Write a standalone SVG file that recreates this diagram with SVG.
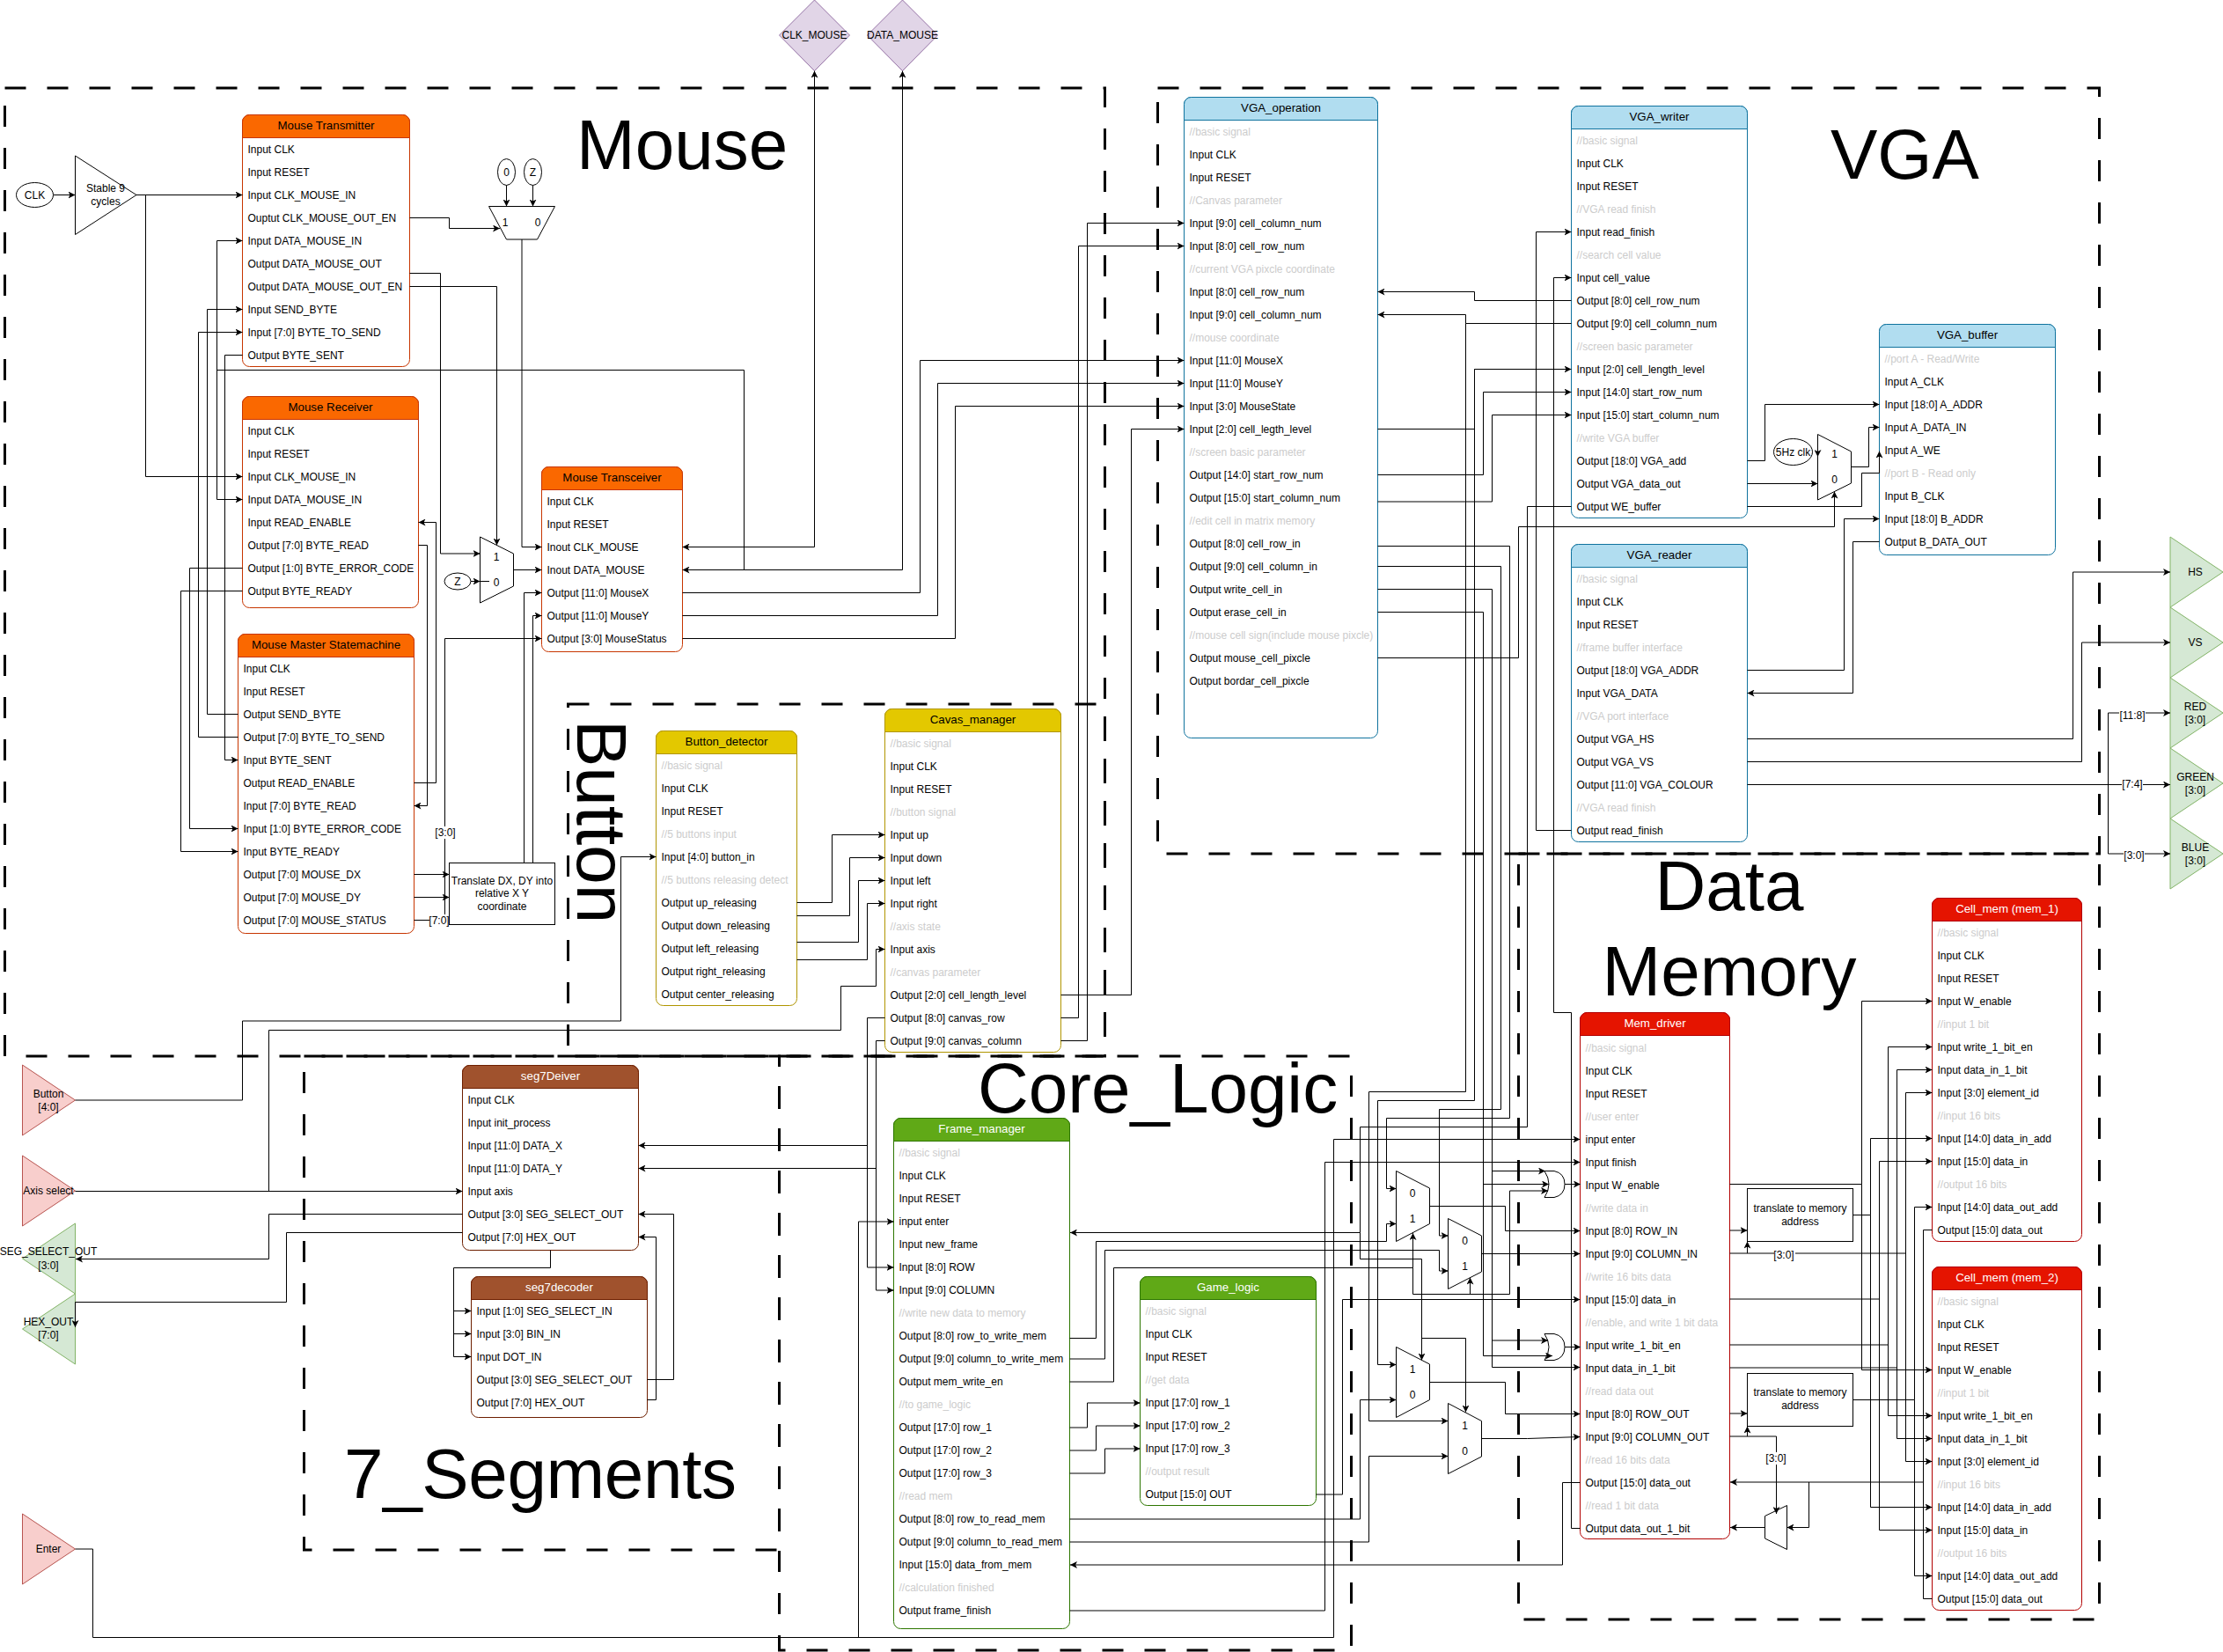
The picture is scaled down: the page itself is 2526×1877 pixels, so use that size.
<svg xmlns="http://www.w3.org/2000/svg" width="2526" height="1877" viewBox="0 0 2526 1877">
<style>
text{font-family:"Liberation Sans",Arial,sans-serif;font-size:12px;fill:#000;dominant-baseline:central}
.m{text-anchor:middle}
.g{fill:#ccc}
.h{text-anchor:middle;font-size:13.3px;transform:translateY(-1.5px)}
.w{fill:#fff}
.big{font-size:80px;dominant-baseline:auto}
.reg{fill:none;stroke:#000;stroke-width:3;stroke-dasharray:24 24}
.l,.a,.b{fill:none;stroke:#000;stroke-width:1}
.a{marker-end:url(#ar)}
.b{marker-start:url(#ar);marker-end:url(#ar)}
.s{fill:#fff;stroke:#000;stroke-width:1}
.bg{fill:#fff;stroke:none}
.o{fill:#fa6800;stroke:#c73500}.ob{fill:#fff;stroke:#c73500}
.y{fill:#e3c800;stroke:#b09500}.yb{fill:#fff;stroke:#b09500}
.c{fill:#b1ddf0;stroke:#10739e}.cb{fill:#fff;stroke:#10739e}
.n{fill:#a0522d;stroke:#6d1f00}.nb{fill:#fff;stroke:#6d1f00}
.e{fill:#60a917;stroke:#2d7600}.eb{fill:#fff;stroke:#2d7600}
.r{fill:#e51400;stroke:#b20000}.rb{fill:#fff;stroke:#b20000}
.pk{fill:#f8cecc;stroke:#b85450}
.gn{fill:#d5e8d4;stroke:#82b366}
.pu{fill:#e1d5e7;stroke:#9673a6}
</style>
<defs><marker id="ar" viewBox="0 0 8 8" refX="8" refY="4" markerWidth="8" markerHeight="8" markerUnits="userSpaceOnUse" orient="auto-start-reverse"><path d="M8 4L0 0L2 4L0 8Z" fill="#000"/></marker></defs>

<g id="regions">
<rect class="reg" x="5.5" y="100" width="1250" height="1100"/>
<rect class="reg" x="645.5" y="800" width="610" height="400"/>
<rect class="reg" x="1315.5" y="100" width="1070" height="870"/>
<rect class="reg" x="1725.5" y="970" width="660" height="870"/>
<rect class="reg" x="345.5" y="1200" width="540" height="561"/>
<rect class="reg" x="885.5" y="1200" width="650" height="675"/>
<text class="big" x="655" y="192">Mouse</text>
<text class="big" x="2080" y="202.5">VGA</text>
<text class="big" transform="translate(656,818) rotate(90)">Button</text>
<text class="big" x="1111" y="1264">Core_Logic</text>
<text class="big m" x="1965" y="1034">Data</text>
<text class="big m" x="1965" y="1131">Memory</text>
<text class="big" x="391" y="1702" textLength="446">7_Segments</text>
</g>

<g id="node-clk"><ellipse class="s" cx="39.5" cy="221.5" rx="21" ry="14"/><text class="m" x="39.5" y="221.5">CLK</text></g>
<g id="node-stable"><polygon class="s" points="85.5,177 155,221.5 85.5,266.5"/><text class="m" x="120" y="213.5">Stable 9</text><text class="m" x="120" y="228.5">cycles</text></g>
<g id="node-const-0"><ellipse class="s" cx="575.5" cy="195.5" rx="10" ry="15"/><text class="m" x="575.5" y="195.5">0</text></g>
<g id="node-const-z"><ellipse class="s" cx="605.5" cy="195.5" rx="10" ry="15"/><text class="m" x="605.5" y="195.5">Z</text></g>
<g id="node-mux-clk"><polygon class="s" points="555.5,234.5 630.5,234.5 610.5,272 575.5,272"/><text class="m" x="574" y="253">1</text><text class="m" x="611" y="253">0</text></g>
<g id="node-mux-data"><polygon class="s" points="545.5,610 583.5,629 583.5,666 545.5,685"/><text class="m" x="564" y="632.5">1</text><text class="m" x="564" y="662">0</text></g>
<g id="node-const-z2"><ellipse class="s" cx="520" cy="660.5" rx="15" ry="9.5"/><text class="m" x="520" y="660.5">Z</text></g>

<g id="node-mouse-transmitter"><rect class="ob" x="275.5" y="130.5" width="190" height="286" rx="8"/><path class="o" d="M275.5 156.5V138.5a8 8 0 0 1 8-8H457.5a8 8 0 0 1 8 8V156.5Z"/>
<text class="h" x="370.5" y="143.5">Mouse Transmitter</text>
<text x="281.5" y="169.5">Input CLK</text><text x="281.5" y="195.5">Input RESET</text><text x="281.5" y="221.5">Input CLK_MOUSE_IN</text><text x="281.5" y="247.5">Ouptut CLK_MOUSE_OUT_EN</text><text x="281.5" y="273.5">Input DATA_MOUSE_IN</text><text x="281.5" y="299.5">Output DATA_MOUSE_OUT</text><text x="281.5" y="325.5">Output DATA_MOUSE_OUT_EN</text><text x="281.5" y="351.5">Input SEND_BYTE</text><text x="281.5" y="377.5">Input [7:0] BYTE_TO_SEND</text><text x="281.5" y="403.5">Output BYTE_SENT</text></g>

<g id="node-mouse-receiver"><rect class="ob" x="275.5" y="450.5" width="200" height="240" rx="8"/><path class="o" d="M275.5 476.5V458.5a8 8 0 0 1 8-8H467.5a8 8 0 0 1 8 8V476.5Z"/>
<text class="h" x="375.5" y="463.5">Mouse Receiver</text>
<text x="281.5" y="489.5">Input CLK</text><text x="281.5" y="515.5">Input RESET</text><text x="281.5" y="541.5">Input CLK_MOUSE_IN</text><text x="281.5" y="567.5">Input DATA_MOUSE_IN</text><text x="281.5" y="593.5">Input READ_ENABLE</text><text x="281.5" y="619.5">Output [7:0] BYTE_READ</text><text x="281.5" y="645.5">Output [1:0] BYTE_ERROR_CODE</text><text x="281.5" y="671.5">Output BYTE_READY</text></g>

<g id="node-mouse-transceiver"><rect class="ob" x="615.5" y="530.5" width="160" height="210" rx="8"/><path class="o" d="M615.5 556.5V538.5a8 8 0 0 1 8-8H767.5a8 8 0 0 1 8 8V556.5Z"/>
<text class="h" x="695.5" y="543.5">Mouse Transceiver</text>
<text x="621.5" y="569.5">Input CLK</text><text x="621.5" y="595.5">Input RESET</text><text x="621.5" y="621.5">Inout CLK_MOUSE</text><text x="621.5" y="647.5">Inout DATA_MOUSE</text><text x="621.5" y="673.5">Output [11:0] MouseX</text><text x="621.5" y="699.5">Output [11:0] MouseY</text><text x="621.5" y="725.5">Output [3:0] MouseStatus</text></g>

<g id="node-mouse-master"><rect class="ob" x="270.5" y="720.5" width="200" height="340" rx="8"/><path class="o" d="M270.5 746.5V728.5a8 8 0 0 1 8-8H462.5a8 8 0 0 1 8 8V746.5Z"/>
<text class="h" x="370.5" y="733.5">Mouse Master Statemachine</text>
<text x="276.5" y="759.5">Input CLK</text><text x="276.5" y="785.5">Input RESET</text><text x="276.5" y="811.5">Output SEND_BYTE</text><text x="276.5" y="837.5">Output [7:0] BYTE_TO_SEND</text><text x="276.5" y="863.5">Input BYTE_SENT</text><text x="276.5" y="889.5">Output READ_ENABLE</text><text x="276.5" y="915.5">Input [7:0] BYTE_READ</text><text x="276.5" y="941.5">Input [1:0] BYTE_ERROR_CODE</text><text x="276.5" y="967.5">Input BYTE_READY</text><text x="276.5" y="993.5">Output [7:0] MOUSE_DX</text><text x="276.5" y="1019.5">Output [7:0] MOUSE_DY</text><text x="276.5" y="1045.5">Output [7:0] MOUSE_STATUS</text></g>

<g id="node-translate-dx"><rect class="s" x="510.5" y="980.5" width="120" height="70"/><text class="m" x="570.5" y="1000.5">Translate DX, DY into</text><text class="m" x="570.5" y="1015">relative X Y</text><text class="m" x="570.5" y="1030">coordinate</text></g>

<g id="node-button-detector"><rect class="yb" x="745.5" y="830.5" width="160" height="312" rx="8"/><path class="y" d="M745.5 856.5V838.5a8 8 0 0 1 8-8H897.5a8 8 0 0 1 8 8V856.5Z"/>
<text class="h" x="825.5" y="843.5">Button_detector</text>
<text class="g" x="751.5" y="869.5">//basic signal</text><text x="751.5" y="895.5">Input CLK</text><text x="751.5" y="921.5">Input RESET</text><text class="g" x="751.5" y="947.5">//5 buttons input</text><text x="751.5" y="973.5">Input [4:0] button_in</text><text class="g" x="751.5" y="999.5">//5 buttons releasing detect</text><text x="751.5" y="1025.5">Output up_releasing</text><text x="751.5" y="1051.5">Output down_releasing</text><text x="751.5" y="1077.5">Output left_releasing</text><text x="751.5" y="1103.5">Output right_releasing</text><text x="751.5" y="1129.5">Output center_releasing</text></g>

<g id="node-cavas-manager"><rect class="yb" x="1005.5" y="805.5" width="200" height="390" rx="8"/><path class="y" d="M1005.5 831.5V813.5a8 8 0 0 1 8-8H1197.5a8 8 0 0 1 8 8V831.5Z"/>
<text class="h" x="1105.5" y="818.5">Cavas_manager</text>
<text class="g" x="1011.5" y="844.5">//basic signal</text><text x="1011.5" y="870.5">Input CLK</text><text x="1011.5" y="896.5">Input RESET</text><text class="g" x="1011.5" y="922.5">//button signal</text><text x="1011.5" y="948.5">Input up</text><text x="1011.5" y="974.5">Input down</text><text x="1011.5" y="1000.5">Input left</text><text x="1011.5" y="1026.5">Input right</text><text class="g" x="1011.5" y="1052.5">//axis state</text><text x="1011.5" y="1078.5">Input axis</text><text class="g" x="1011.5" y="1104.5">//canvas parameter</text><text x="1011.5" y="1130.5">Output [2:0] cell_length_level</text><text x="1011.5" y="1156.5">Output [8:0] canvas_row</text><text x="1011.5" y="1182.5">Output [9:0] canvas_column</text></g>

<g id="node-vga-operation"><rect class="cb" x="1345.5" y="110.5" width="220" height="728" rx="8"/><path class="c" d="M1345.5 136.5V118.5a8 8 0 0 1 8-8H1557.5a8 8 0 0 1 8 8V136.5Z"/>
<text class="h" x="1455.5" y="123.5">VGA_operation</text>
<text class="g" x="1351.5" y="149.5">//basic signal</text><text x="1351.5" y="175.5">Input CLK</text><text x="1351.5" y="201.5">Input RESET</text><text class="g" x="1351.5" y="227.5">//Canvas parameter</text><text x="1351.5" y="253.5">Input [9:0] cell_column_num</text><text x="1351.5" y="279.5">Input [8:0] cell_row_num</text><text class="g" x="1351.5" y="305.5">//current VGA pixcle coordinate</text><text x="1351.5" y="331.5">Input [8:0] cell_row_num</text><text x="1351.5" y="357.5">Input [9:0] cell_column_num</text><text class="g" x="1351.5" y="383.5">//mouse coordinate</text><text x="1351.5" y="409.5">Input [11:0] MouseX</text><text x="1351.5" y="435.5">Input [11:0] MouseY</text><text x="1351.5" y="461.5">Input [3:0] MouseState</text><text x="1351.5" y="487.5">Input [2:0] cell_legth_level</text><text class="g" x="1351.5" y="513.5">//screen basic parameter</text><text x="1351.5" y="539.5">Output [14:0] start_row_num</text><text x="1351.5" y="565.5">Output [15:0] start_column_num</text><text class="g" x="1351.5" y="591.5">//edit cell in matrix memory</text><text x="1351.5" y="617.5">Output [8:0] cell_row_in</text><text x="1351.5" y="643.5">Output [9:0] cell_column_in</text><text x="1351.5" y="669.5">Output write_cell_in</text><text x="1351.5" y="695.5">Output erase_cell_in</text><text class="g" x="1351.5" y="721.5">//mouse cell sign(include mouse pixcle)</text><text x="1351.5" y="747.5">Output mouse_cell_pixcle</text><text x="1351.5" y="773.5">Output bordar_cell_pixcle</text></g>

<g id="node-vga-writer"><rect class="cb" x="1785.5" y="120.5" width="200" height="468" rx="8"/><path class="c" d="M1785.5 146.5V128.5a8 8 0 0 1 8-8H1977.5a8 8 0 0 1 8 8V146.5Z"/>
<text class="h" x="1885.5" y="133.5">VGA_writer</text>
<text class="g" x="1791.5" y="159.5">//basic signal</text><text x="1791.5" y="185.5">Input CLK</text><text x="1791.5" y="211.5">Input RESET</text><text class="g" x="1791.5" y="237.5">//VGA read finish</text><text x="1791.5" y="263.5">Input read_finish</text><text class="g" x="1791.5" y="289.5">//search cell value</text><text x="1791.5" y="315.5">Input cell_value</text><text x="1791.5" y="341.5">Output [8:0] cell_row_num</text><text x="1791.5" y="367.5">Output [9:0] cell_column_num</text><text class="g" x="1791.5" y="393.5">//screen basic parameter</text><text x="1791.5" y="419.5">Input [2:0] cell_length_level</text><text x="1791.5" y="445.5">Input [14:0] start_row_num</text><text x="1791.5" y="471.5">Input [15:0] start_column_num</text><text class="g" x="1791.5" y="497.5">//write VGA buffer</text><text x="1791.5" y="523.5">Output [18:0] VGA_add</text><text x="1791.5" y="549.5">Output VGA_data_out</text><text x="1791.5" y="575.5">Output WE_buffer</text></g>

<g id="node-vga-reader"><rect class="cb" x="1785.5" y="618.5" width="200" height="338" rx="8"/><path class="c" d="M1785.5 644.5V626.5a8 8 0 0 1 8-8H1977.5a8 8 0 0 1 8 8V644.5Z"/>
<text class="h" x="1885.5" y="631.5">VGA_reader</text>
<text class="g" x="1791.5" y="657.5">//basic signal</text><text x="1791.5" y="683.5">Input CLK</text><text x="1791.5" y="709.5">Input RESET</text><text class="g" x="1791.5" y="735.5">//frame buffer interface</text><text x="1791.5" y="761.5">Output [18:0] VGA_ADDR</text><text x="1791.5" y="787.5">Input VGA_DATA</text><text class="g" x="1791.5" y="813.5">//VGA port interface</text><text x="1791.5" y="839.5">Output VGA_HS</text><text x="1791.5" y="865.5">Output VGA_VS</text><text x="1791.5" y="891.5">Output [11:0] VGA_COLOUR</text><text class="g" x="1791.5" y="917.5">//VGA read finish</text><text x="1791.5" y="943.5">Output read_finish</text></g>

<g id="node-vga-buffer"><rect class="cb" x="2135.5" y="368.5" width="200" height="262" rx="8"/><path class="c" d="M2135.5 394.5V376.5a8 8 0 0 1 8-8H2327.5a8 8 0 0 1 8 8V394.5Z"/>
<text class="h" x="2235.5" y="381.5">VGA_buffer</text>
<text class="g" x="2141.5" y="407.5">//port A - Read/Write</text><text x="2141.5" y="433.5">Input A_CLK</text><text x="2141.5" y="459.5">Input [18:0] A_ADDR</text><text x="2141.5" y="485.5">Input A_DATA_IN</text><text x="2141.5" y="511.5">Input A_WE</text><text class="g" x="2141.5" y="537.5">//port B - Read only</text><text x="2141.5" y="563.5">Input B_CLK</text><text x="2141.5" y="589.5">Input [18:0] B_ADDR</text><text x="2141.5" y="615.5">Output B_DATA_OUT</text></g>

<g id="node-mux-vga"><polygon class="s" points="2065.5,493.5 2103.5,513 2103.5,549 2065.5,568"/><text class="m" x="2084.5" y="515.5">1</text><text class="m" x="2084.5" y="544.5">0</text></g>
<g id="node-5hz"><ellipse class="s" cx="2037.5" cy="513.5" rx="22" ry="15"/><text class="m" x="2037.5" y="513.5">5Hz clk</text></g>

<g id="node-hs"><polygon class="gn" points="2466,610 2526,650 2466,690"/><text class="m" x="2494.5" y="650">HS</text></g>
<g id="node-vs"><polygon class="gn" points="2466,690 2526,730 2466,770"/><text class="m" x="2494.5" y="730">VS</text></g>
<g id="node-red"><polygon class="gn" points="2466,770 2526,810 2466,850"/><text class="m" x="2494.5" y="802.5">RED</text><text class="m" x="2494.5" y="817.5">[3:0]</text></g>
<g id="node-green"><polygon class="gn" points="2466,850 2526,890 2466,930"/><text class="m" x="2494.5" y="882.5">GREEN</text><text class="m" x="2494.5" y="897.5">[3:0]</text></g>
<g id="node-blue"><polygon class="gn" points="2466,930 2526,970 2466,1010"/><text class="m" x="2494.5" y="962.5">BLUE</text><text class="m" x="2494.5" y="977.5">[3:0]</text></g>

<g id="node-clk-mouse"><polygon class="pu" points="925.5,0 965.5,40 925.5,80.5 885.5,40"/><text class="m" x="925.5" y="40">CLK_MOUSE</text></g>
<g id="node-data-mouse"><polygon class="pu" points="1025.5,0 1065.5,40 1025.5,80.5 985.5,40"/><text class="m" x="1025.5" y="40">DATA_MOUSE</text></g>

<g id="node-button"><polygon class="pk" points="25.5,1210 85.5,1250 25.5,1290"/><text class="m" x="55" y="1242.5">Button</text><text class="m" x="55" y="1257.5">[4:0]</text></g>
<g id="node-axis"><polygon class="pk" points="25.5,1313 85.5,1353 25.5,1393"/><text class="m" x="55" y="1352.5">Axis select</text></g>
<g id="node-seg-out"><polygon class="gn" points="85.5,1390 25.5,1430 85.5,1470"/><text class="m" x="55" y="1422">SEG_SELECT_OUT</text><text class="m" x="55" y="1438">[3:0]</text></g>
<g id="node-hex-out"><polygon class="gn" points="85.5,1470 25.5,1510 85.5,1550"/><text class="m" x="55" y="1502">HEX_OUT</text><text class="m" x="55" y="1517">[7:0]</text></g>
<g id="node-enter"><polygon class="pk" points="25.5,1720 85.5,1760 25.5,1800"/><text class="m" x="55" y="1760">Enter</text></g>

<g id="node-seg7deiver"><rect class="nb" x="525.5" y="1210.5" width="200" height="210" rx="8"/><path class="n" d="M525.5 1236.5V1218.5a8 8 0 0 1 8-8H717.5a8 8 0 0 1 8 8V1236.5Z"/>
<text class="h w" x="625.5" y="1223.5">seg7Deiver</text>
<text x="531.5" y="1249.5">Input CLK</text><text x="531.5" y="1275.5">Input init_process</text><text x="531.5" y="1301.5">Input [11:0] DATA_X</text><text x="531.5" y="1327.5">Input [11:0] DATA_Y</text><text x="531.5" y="1353.5">Input axis</text><text x="531.5" y="1379.5">Output [3:0] SEG_SELECT_OUT</text><text x="531.5" y="1405.5">Output [7:0] HEX_OUT</text></g>

<g id="node-seg7decoder"><rect class="nb" x="535.5" y="1450.5" width="200" height="160" rx="8"/><path class="n" d="M535.5 1476.5V1458.5a8 8 0 0 1 8-8H727.5a8 8 0 0 1 8 8V1476.5Z"/>
<text class="h w" x="635.5" y="1463.5">seg7decoder</text>
<text x="541.5" y="1489.5">Input [1:0] SEG_SELECT_IN</text><text x="541.5" y="1515.5">Input [3:0] BIN_IN</text><text x="541.5" y="1541.5">Input DOT_IN</text><text x="541.5" y="1567.5">Output [3:0] SEG_SELECT_OUT</text><text x="541.5" y="1593.5">Output [7:0] HEX_OUT</text></g>

<g id="node-frame-manager"><rect class="eb" x="1015.5" y="1270.5" width="200" height="580" rx="8"/><path class="e" d="M1015.5 1296.5V1278.5a8 8 0 0 1 8-8H1207.5a8 8 0 0 1 8 8V1296.5Z"/>
<text class="h w" x="1115.5" y="1283.5">Frame_manager</text>
<text class="g" x="1021.5" y="1310">//basic signal</text><text x="1021.5" y="1336">Input CLK</text><text x="1021.5" y="1362">Input RESET</text><text x="1021.5" y="1388">input enter</text><text x="1021.5" y="1414">Input new_frame</text><text x="1021.5" y="1440">Input [8:0] ROW</text><text x="1021.5" y="1466">Input [9:0] COLUMN</text><text class="g" x="1021.5" y="1492">//write new data to memory</text><text x="1021.5" y="1518">Output [8:0] row_to_write_mem</text><text x="1021.5" y="1544">Output [9:0] column_to_write_mem</text><text x="1021.5" y="1570">Output mem_write_en</text><text class="g" x="1021.5" y="1596">//to game_logic</text><text x="1021.5" y="1622">Output [17:0] row_1</text><text x="1021.5" y="1648">Output [17:0] row_2</text><text x="1021.5" y="1674">Output [17:0] row_3</text><text class="g" x="1021.5" y="1700">//read mem</text><text x="1021.5" y="1726">Output [8:0] row_to_read_mem</text><text x="1021.5" y="1752">Output [9:0] column_to_read_mem</text><text x="1021.5" y="1778">Input [15:0] data_from_mem</text><text class="g" x="1021.5" y="1804">//calculation finished</text><text x="1021.5" y="1830">Output frame_finish</text></g>

<g id="node-game-logic"><rect class="eb" x="1295.5" y="1450.5" width="200" height="260" rx="8"/><path class="e" d="M1295.5 1476.5V1458.5a8 8 0 0 1 8-8H1487.5a8 8 0 0 1 8 8V1476.5Z"/>
<text class="h w" x="1395.5" y="1463.5">Game_logic</text>
<text class="g" x="1301.5" y="1490">//basic signal</text><text x="1301.5" y="1516">Input CLK</text><text x="1301.5" y="1542">Input RESET</text><text class="g" x="1301.5" y="1568">//get data</text><text x="1301.5" y="1594">Input [17:0] row_1</text><text x="1301.5" y="1620">Input [17:0] row_2</text><text x="1301.5" y="1646">Input [17:0] row_3</text><text class="g" x="1301.5" y="1672">//output result</text><text x="1301.5" y="1698">Output [15:0] OUT</text></g>

<g id="node-mem-driver"><rect class="rb" x="1795.5" y="1150.5" width="170" height="598" rx="8"/><path class="r" d="M1795.5 1176.5V1158.5a8 8 0 0 1 8-8H1957.5a8 8 0 0 1 8 8V1176.5Z"/>
<text class="h w" x="1880.5" y="1163.5">Mem_driver</text>
<text class="g" x="1801.5" y="1190.5">//basic signal</text><text x="1801.5" y="1216.5">Input CLK</text><text x="1801.5" y="1242.5">Input RESET</text><text class="g" x="1801.5" y="1268.5">//user enter</text><text x="1801.5" y="1294.5">input enter</text><text x="1801.5" y="1320.5">Input finish</text><text x="1801.5" y="1346.5">Input W_enable</text><text class="g" x="1801.5" y="1372.5">//write data in</text><text x="1801.5" y="1398.5">Input [8:0] ROW_IN</text><text x="1801.5" y="1424.5">Input [9:0] COLUMN_IN</text><text class="g" x="1801.5" y="1450.5">//write 16 bits data</text><text x="1801.5" y="1476.5">Input [15:0] data_in</text><text class="g" x="1801.5" y="1502.5">//enable, and write 1 bit data</text><text x="1801.5" y="1528.5">Input write_1_bit_en</text><text x="1801.5" y="1554.5">Input data_in_1_bit</text><text class="g" x="1801.5" y="1580.5">//read data out</text><text x="1801.5" y="1606.5">Input [8:0] ROW_OUT</text><text x="1801.5" y="1632.5">Input [9:0] COLUMN_OUT</text><text class="g" x="1801.5" y="1658.5">//read 16 bits data</text><text x="1801.5" y="1684.5">Output [15:0] data_out</text><text class="g" x="1801.5" y="1710.5">//read 1 bit data</text><text x="1801.5" y="1736.5">Output data_out_1_bit</text></g>

<g id="node-cell-mem-1"><rect class="rb" x="2195.5" y="1020.5" width="170" height="390" rx="8"/><path class="r" d="M2195.5 1046.5V1028.5a8 8 0 0 1 8-8H2357.5a8 8 0 0 1 8 8V1046.5Z"/>
<text class="h w" x="2280.5" y="1033.5">Cell_mem (mem_1)</text>
<text class="g" x="2201.5" y="1059.5">//basic signal</text><text x="2201.5" y="1085.5">Input CLK</text><text x="2201.5" y="1111.5">Input RESET</text><text x="2201.5" y="1137.5">Input W_enable</text><text class="g" x="2201.5" y="1163.5">//input 1 bit</text><text x="2201.5" y="1189.5">Input write_1_bit_en</text><text x="2201.5" y="1215.5">Input data_in_1_bit</text><text x="2201.5" y="1241.5">Input [3:0] element_id</text><text class="g" x="2201.5" y="1267.5">//input 16 bits</text><text x="2201.5" y="1293.5">Input [14:0] data_in_add</text><text x="2201.5" y="1319.5">Input [15:0] data_in</text><text class="g" x="2201.5" y="1345.5">//output 16 bits</text><text x="2201.5" y="1371.5">Input [14:0] data_out_add</text><text x="2201.5" y="1397.5">Output [15:0] data_out</text></g>

<g id="node-cell-mem-2"><rect class="rb" x="2195.5" y="1439.5" width="170" height="390" rx="8"/><path class="r" d="M2195.5 1465.5V1447.5a8 8 0 0 1 8-8H2357.5a8 8 0 0 1 8 8V1465.5Z"/>
<text class="h w" x="2280.5" y="1452.5">Cell_mem (mem_2)</text>
<text class="g" x="2201.5" y="1478.5">//basic signal</text><text x="2201.5" y="1504.5">Input CLK</text><text x="2201.5" y="1530.5">Input RESET</text><text x="2201.5" y="1556.5">Input W_enable</text><text class="g" x="2201.5" y="1582.5">//input 1 bit</text><text x="2201.5" y="1608.5">Input write_1_bit_en</text><text x="2201.5" y="1634.5">Input data_in_1_bit</text><text x="2201.5" y="1660.5">Input [3:0] element_id</text><text class="g" x="2201.5" y="1686.5">//input 16 bits</text><text x="2201.5" y="1712.5">Input [14:0] data_in_add</text><text x="2201.5" y="1738.5">Input [15:0] data_in</text><text class="g" x="2201.5" y="1764.5">//output 16 bits</text><text x="2201.5" y="1790.5">Input [14:0] data_out_add</text><text x="2201.5" y="1816.5">Output [15:0] data_out</text></g>

<g id="node-translate-mem-1"><rect class="s" x="1985.5" y="1350.5" width="120" height="60"/><text class="m" x="2045.5" y="1372.5">translate to memory</text><text class="m" x="2045.5" y="1387.5">address</text></g>
<g id="node-translate-mem-2"><rect class="s" x="1985.5" y="1560.5" width="120" height="60"/><text class="m" x="2045.5" y="1582">translate to memory</text><text class="m" x="2045.5" y="1597">address</text></g>

<g id="node-mux-a"><polygon class="s" points="1586.5,1330.5 1624.5,1350 1624.5,1390.5 1586.5,1410.5"/><text class="m" x="1605" y="1355.5">0</text><text class="m" x="1605" y="1384.5">1</text></g>
<g id="node-mux-b"><polygon class="s" points="1645.5,1384.5 1683.5,1404 1683.5,1445 1645.5,1464.5"/><text class="m" x="1664.5" y="1409.5">0</text><text class="m" x="1664.5" y="1438.5">1</text></g>
<g id="node-mux-c"><polygon class="s" points="1586.5,1530.5 1624.5,1550 1624.5,1590.5 1586.5,1610.5"/><text class="m" x="1605" y="1556">1</text><text class="m" x="1605" y="1584.5">0</text></g>
<g id="node-mux-d"><polygon class="s" points="1645.5,1594.5 1683.5,1614.5 1683.5,1655 1645.5,1674.5"/><text class="m" x="1664.5" y="1619.5">1</text><text class="m" x="1664.5" y="1648.5">0</text></g>
<g id="node-or-1"><path class="s" d="M1755 1330.5H1766Q1778 1333 1778 1345.5Q1778 1358 1766 1360.5H1755Q1765 1345.5 1755 1330.5Z"/></g>
<g id="node-or-2"><path class="s" d="M1755 1515.5H1766Q1778 1518 1778 1530.5Q1778 1543 1766 1545.5H1755Q1765 1530.5 1755 1515.5Z"/></g>
<g id="node-mux-out"><polygon class="s" points="2030.5,1710.5 2030.5,1760.5 2005.5,1748 2005.5,1722.5"/></g>

<g id="connectors">
<path class="a" d="M61 221.5H85.5"/>
<path class="a" d="M155 221.5H275.5"/>
<path class="a" d="M165.5 221.5V541.5H275.5"/>
<path class="a" d="M465.5 247.5H510.5V259.5H568"/>
<path class="a" d="M593 272V621.5H615.5"/>
<path class="a" d="M465.5 310.5H500.5V629H545.5"/>
<path class="a" d="M465.5 325.5H564.5V619.5"/>
<path class="a" d="M575.5 210.5V234.5"/>
<path class="a" d="M605.5 210.5V234.5"/>
<path class="a" d="M535 660.5H545.5"/>
<path class="l" d="M545.5 660.5H556"/>
<path class="a" d="M583.5 647.5H615.5"/>
<path class="b" d="M775.5 621.5H925.5V80.5"/>
<path class="b" d="M775.5 647.5H1025.5V80.5"/>
<path class="l" d="M845.5 647.5V420.5H246.5"/>
<path class="b" d="M275.5 273.5H246.5V567.5H275.5"/>
<path class="a" d="M270.5 811.5H235.5V351.5H275.5"/>
<path class="a" d="M270.5 837.5H225.5V377.5H275.5"/>
<path class="a" d="M275.5 403.5H255.5V863.5H270.5"/>
<path class="a" d="M470.5 889.5H495.5V593.5H475.5"/>
<path class="a" d="M475.5 619.5H485.5V915.5H470.5"/>
<path class="a" d="M275.5 645.5H215.5V941.5H270.5"/>
<path class="a" d="M275.5 671.5H205.5V967.5H270.5"/>
<path class="a" d="M470.5 993.5H510.5"/>
<path class="a" d="M470.5 1019.5H510.5"/>
<path class="l" d="M470.5 1045.5H510.5"/>
<path class="a" d="M505.5 1045.5V725.5H615.5"/>
<path class="a" d="M595.5 980.5V673.5H615.5"/>
<path class="a" d="M605.5 980.5V699.5H615.5"/>
<path class="a" d="M775.5 673.5H1045.5V409.5H1345.5"/>
<path class="a" d="M775.5 699.5H1065.5V435.5H1345.5"/>
<path class="a" d="M775.5 725.5H1085.5V461.5H1345.5"/>
<path class="a" d="M85.5 1250H275.5V1160H705.5V973.5H745.5"/>
<path class="a" d="M85.5 1353.5H525.5"/>
<path class="a" d="M305.5 1353.5V1170.5H955.5V1120.5H995.5V1078.5H1005.5"/>
<path class="a" d="M905.5 1025.5H945.5V948.5H1005.5"/>
<path class="a" d="M905.5 1040.5H965.5V974.5H1005.5"/>
<path class="a" d="M905.5 1070.5H975.5V1000.5H1005.5"/>
<path class="a" d="M905.5 1090.5H985.5V1026.5H1005.5"/>
<path class="a" d="M1205.5 1130.5H1285.5V487.5H1345.5"/>
<path class="a" d="M1205.5 1156.5H1225.5V279.5H1345.5"/>
<path class="a" d="M1205.5 1182.5H1235.5V253.5H1345.5"/>
<path class="a" d="M1005.5 1156.5H985.5V1440H1015.5"/>
<path class="a" d="M1005.5 1182.5H995.5V1466H1015.5"/>
<path class="a" d="M985.5 1301.5H725.5"/>
<path class="a" d="M995.5 1327.5H725.5"/>
<path class="a" d="M525.5 1379.5H305.5V1430.5H86"/>
<path class="a" d="M525.5 1400.5H325.5V1479.5H85.5V1508"/>
<path class="l" d="M625.5 1420.5V1440.5H515.5V1541.5"/>
<path class="a" d="M515.5 1489.5H535.5"/>
<path class="a" d="M515.5 1515.5H535.5"/>
<path class="a" d="M515.5 1541.5H535.5"/>
<path class="a" d="M735.5 1567.5H765.5V1379.5H725.5"/>
<path class="a" d="M735.5 1590.5H745.5V1405.5H725.5"/>
<path class="a" d="M85.5 1760H105.5V1860.5H1515.5V1294.5H1795.5"/>
<path class="a" d="M975.5 1860.5V1388H1015.5"/>
<path class="a" d="M1785.5 341.5H1675.5V331.5H1565.5"/>
<path class="a" d="M1785.5 367.5H1665.5V357.5H1565.5"/>
<path class="a" d="M1565.5 487.5H1675.5V419.5H1785.5"/>
<path class="a" d="M1565.5 539.5H1685.5V445.5H1785.5"/>
<path class="a" d="M1565.5 570H1695.5V471.5H1785.5"/>
<path class="a" d="M1785.5 943.5H1745.5V263.5H1785.5"/>
<path class="a" d="M1795.5 1736.5H1785.5V1150.5H1765.5V315.5H1785.5"/>
<path class="a" d="M1565.5 747.5H1725.5V598.5H2084.5V558.5"/>
<path class="a" d="M1985.5 523.5H2005.5V459.5H2135.5"/>
<path class="a" d="M1985.5 549.5H2065.5"/>
<path class="a" d="M1985.5 575.5H2115.5V537.5H2135.5V512.5"/>
<path class="a" d="M2065.5 512.5V519"/>
<path class="a" d="M2103.5 530.5H2123.5V485.5H2135.5"/>
<path class="a" d="M1985.5 761.5H2095.5V589.5H2135.5"/>
<path class="a" d="M2135.5 615.5H2105.5V787.5H1985.5"/>
<path class="a" d="M1985.5 839.5H2355.5V650H2466"/>
<path class="a" d="M1985.5 865.5H2365.5V730H2466"/>
<path class="a" d="M1985.5 891.5H2466"/>
<path class="a" d="M2395.5 891.5V810H2466"/>
<path class="a" d="M2395.5 891.5V970H2466"/>
<path class="l" d="M1665.5 367.5V1240.5H1555.5"/>
<path class="a" d="M1555.5 1240.5V1614.5H1645.5"/>
<path class="l" d="M1675.5 419.5V1250.5H1565.5"/>
<path class="a" d="M1565.5 1250.5V1550.5H1586.5"/>
<path class="a" d="M1565.5 620.5H1715.5V1270.5H1575.5V1350.5H1586.5"/>
<path class="a" d="M1565.5 643.5H1705.5V1260.5H1635.5V1404H1645.5"/>
<path class="a" d="M1565.5 669.5H1695.5V1553.5H1795.5"/>
<path class="a" d="M1695.5 1330.5H1756"/>
<path class="a" d="M1695.5 1523H1759"/>
<path class="l" d="M1565.5 695.5H1685.5V1540.5"/>
<path class="a" d="M1685.5 1345.5H1760"/>
<path class="a" d="M1685.5 1540.5H1764"/>
<path class="a" d="M1785.5 575.5H1735.5V1280.5H1545.5V1400.5H1216"/>
<path class="a" d="M1545.5 1400.5V1430.5H1615.5V1545.5"/>
<path class="a" d="M1615.5 1520.5H1665.5V1604.5"/>
<path class="a" d="M1215.5 1520.5H1245.5V1410.5H1575.5V1390.5H1586.5"/>
<path class="a" d="M1215.5 1544H1255.5V1420.5H1635.5V1444H1645.5"/>
<path class="a" d="M1215.5 1570H1265.5V1440.5H1605.5V1401"/>
<path class="a" d="M1605.5 1440.5V1470.5H1715.5V1353H1759"/>
<path class="a" d="M1670.5 1470.5V1451.5"/>
<path class="a" d="M1215.5 1622H1235.5V1594H1295.5"/>
<path class="a" d="M1215.5 1648H1245.5V1620H1295.5"/>
<path class="a" d="M1215.5 1674H1255.5V1646H1295.5"/>
<path class="a" d="M1495.5 1698H1525.5V1476.5H1795.5"/>
<path class="a" d="M1215.5 1726H1545.5V1590.5H1586.5"/>
<path class="a" d="M1215.5 1752H1555.5V1654.5H1645.5"/>
<path class="a" d="M1795.5 1684.5H1775.5V1778H1216"/>
<path class="a" d="M1215.5 1830H1505.5V1320.5H1795.5"/>
<path class="a" d="M1778 1345.5H1796"/>
<path class="a" d="M1778 1530.5H1796"/>
<path class="a" d="M1624.5 1370.5H1710.5V1398.5H1795.5"/>
<path class="a" d="M1683.5 1424.5H1795.5"/>
<path class="a" d="M1624.5 1570.5H1710.5V1606.5H1795.5"/>
<path class="a" d="M1683.5 1634.5H1735.5L1795.5 1632.5"/>
<path class="a" d="M1965.5 1345.5H2115.5V1137.5H2195.5"/>
<path class="a" d="M2115.5 1345.5V1556.5H2195.5"/>
<path class="a" d="M1965.5 1398H1985.5"/>
<path class="a" d="M1965.5 1424H2165.5V1241.5H2195.5"/>
<path class="a" d="M2165.5 1424V1660.5H2195.5"/>
<path class="a" d="M1985.5 1424V1410.5"/>
<path class="a" d="M2105.5 1380.5H2125.5V1293.5H2195.5"/>
<path class="a" d="M2125.5 1380.5V1712.5H2195.5"/>
<path class="a" d="M1965.5 1476H2135.5V1319.5H2195.5"/>
<path class="a" d="M2135.5 1476V1738.5H2195.5"/>
<path class="a" d="M1965.5 1528H2145.5V1189.5H2195.5"/>
<path class="a" d="M2145.5 1528V1608.5H2195.5"/>
<path class="a" d="M1965.5 1554H2155.5V1215.5H2195.5"/>
<path class="a" d="M2155.5 1554V1634.5H2195.5"/>
<path class="a" d="M1965.5 1606H1985.5"/>
<path class="a" d="M1965.5 1632H2018.5V1720"/>
<path class="a" d="M1985.5 1632V1620.5"/>
<path class="a" d="M2105.5 1590.5H2175.5V1371.5H2195.5"/>
<path class="a" d="M2175.5 1590.5V1790.5H2195.5"/>
<path class="a" d="M2195.5 1397.5H2185.5V1684H1966"/>
<path class="l" d="M2195.5 1816.5H2185.5V1684"/>
<path class="a" d="M2055.5 1684V1735.5H2030.5"/>
<path class="a" d="M2005.5 1735.5H1966"/>
<g id="connector-labels">
<rect class="bg" x="488" y="1039" width="22" height="14"/><text class="m" x="499" y="1046">[7:0]</text>
<rect class="bg" x="495" y="939" width="22" height="14"/><text class="m" x="506" y="946">[3:0]</text>
<rect class="bg" x="2408" y="806" width="30" height="14"/><text class="m" x="2423" y="813">[11:8]</text>
<rect class="bg" x="2411" y="884" width="24" height="14"/><text class="m" x="2423" y="891">[7:4]</text>
<rect class="bg" x="2413" y="965" width="24" height="14"/><text class="m" x="2425" y="972">[3:0]</text>
<rect class="bg" x="2016" y="1419" width="24" height="14"/><text class="m" x="2027" y="1426">[3:0]</text>
<rect class="bg" x="2006" y="1650" width="24" height="14"/><text class="m" x="2018" y="1657">[3:0]</text>
</g>
</g>
</svg>
